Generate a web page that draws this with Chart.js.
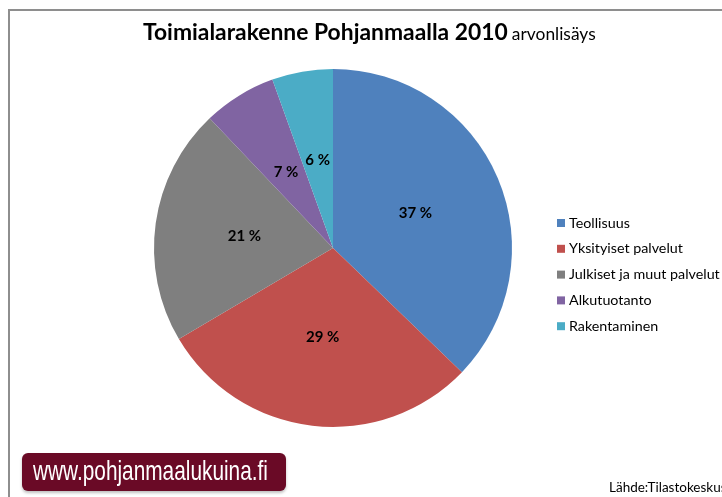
<!DOCTYPE html>
<html>
<head>
<meta charset="utf-8">
<script src="https://cdn.jsdelivr.net/npm/chart.js@4.4.1/dist/chart.umd.min.js"></script>
<style>
  html, body { margin: 0; padding: 0; background: #fff; }
  #wrap { position: relative; width: 722px; height: 497px; overflow: hidden; background: #fff; }
  #frame { position: absolute; left: 8px; top: 9px; width: 800px; height: 600px; border-left: 2px solid #8e8e8e; border-top: 2px solid #8e8e8e; box-sizing: border-box; }
  #title { position: absolute; left: 143px; top: 17px; font-family: Lato, "Open Sans", sans-serif; color: #000; white-space: nowrap; transform-origin: 0 50%; }
  #title b { font-size: 23px; font-weight: 700; }
  #title span { font-size: 17.5px; font-weight: 400; }
  #banner { position: absolute; left: 22px; top: 453px; width: 264px; height: 38px; background: #6a0a26; border-radius: 6px; box-shadow: 0 2px 3px rgba(0,0,0,0.25); overflow: hidden; }
  #btext { position: absolute; left: 11px; top: 0; color: #fff; font-family: "Liberation Sans", "DejaVu Sans", sans-serif; font-size: 28px; line-height: 36px; white-space: nowrap; transform-origin: 0 50%; }
  #source { position: absolute; left: 609px; top: 479px; font-family: Lato, "Open Sans", sans-serif; font-size: 13.5px; color: #000; white-space: nowrap; }
  canvas { position: absolute; left: 0; top: 0; }
</style>
</head>
<body>
<div id="wrap">
  <div id="frame"></div>
  <canvas id="c" width="722" height="497"></canvas>
  <div id="title"><b>Toimialarakenne Pohjanmaalla 2010</b> <span>arvonlisäys</span></div>
  <div id="banner"><span id="btext">www.pohjanmaalukuina.fi</span></div>
  <div id="source">Lähde:Tilastokeskus</div>
</div>
<script>
const categories = ["Teollisuus", "Yksityiset palvelut", "Julkiset ja muut palvelut", "Alkutuotanto", "Rakentaminen"];
const shares = [37.2, 29.3, 21.4, 6.6, 5.5];
const colors = ["#4F81BD", "#C0504D", "#7F7F7F", "#8064A2", "#4BACC6"];

// fit banner text and title widths to the reference
(function () {
  const bt = document.getElementById('btext');
  bt.style.transform = 'scaleX(' + (235 / bt.offsetWidth) + ')';
  const t = document.getElementById('title');
  t.style.transform = 'scaleX(' + (453 / t.offsetWidth) + ')';
})();

const labelPlugin = {
  id: 'sliceLabels',
  afterDatasetsDraw(chart) {
    const ctx = chart.ctx;
    const meta = chart.getDatasetMeta(0);
    const data = chart.data.datasets[0].data;
    ctx.save();
    ctx.font = 'bold 15px Lato, "Open Sans", sans-serif';
    ctx.fillStyle = '#000';
    ctx.textAlign = 'center';
    ctx.textBaseline = 'middle';
    meta.data.forEach((arc, i) => {
      const p = arc.tooltipPosition();
      ctx.fillText(Math.round(data[i]) + ' %', p.x, p.y);
    });
    ctx.restore();
  }
};

const legendPlugin = {
  id: 'sideLegend',
  afterDraw(chart) {
    const ctx = chart.ctx;
    const labels = chart.data.labels;
    const bg = chart.data.datasets[0].backgroundColor;
    ctx.save();
    ctx.font = '14.3px Lato, "Open Sans", sans-serif';
    ctx.textBaseline = 'middle';
    const x0 = 557, y0 = 223, step = 25.8;
    labels.forEach((lab, i) => {
      const y = y0 + i * step;
      ctx.fillStyle = bg[i];
      ctx.fillRect(x0, y - 4, 8, 8);
      ctx.fillStyle = '#000';
      ctx.fillText(lab, x0 + 12, y);
    });
    ctx.restore();
  }
};

new Chart(document.getElementById('c'), {
  type: 'pie',
  data: {
    labels: categories,
    datasets: [{ data: shares, backgroundColor: colors, borderWidth: 0 }]
  },
  options: {
    responsive: false,
    animation: false,
    layout: { padding: { left: 154, right: 210, top: 69, bottom: 70 } },
    plugins: { legend: { display: false }, tooltip: { enabled: false }, title: { display: false } }
  },
  plugins: [labelPlugin, legendPlugin]
});
</script>
</body>
</html>
